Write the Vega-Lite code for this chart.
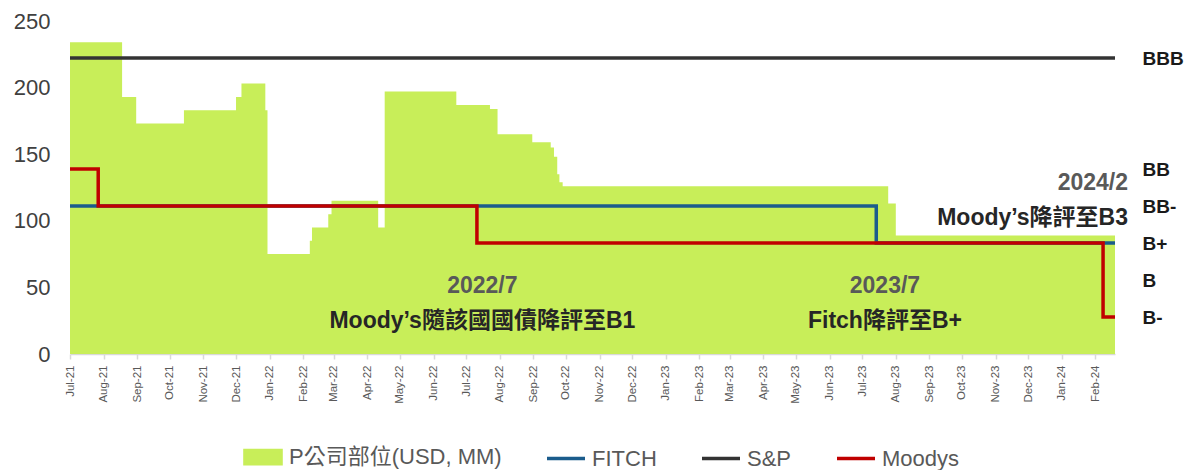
{
  "$schema": "https://vega.github.io/schema/vega-lite/v6.json",
  "width": 1045,
  "height": 333,
  "autosize": {"type": "none"},
  "padding": {"left": 70, "top": 21, "right": 75, "bottom": 116},
  "background": "white",
  "config": {
    "view": {"stroke": null},
    "font": "Liberation Sans, Noto Sans CJK TC",
    "axisX": {
      "format": "%b-%y", "formatType": "utc",
      "tickCount": {"interval": "month", "step": 1},
      "labelAngle": -90, "labelFontSize": 11.5, "labelColor": "#595959",
      "labelPadding": 6, "labelOverlap": false, "labelFlush": false,
      "domainColor": "#d9d9d9", "domainWidth": 1.5,
      "tickColor": "#d9d9d9", "tickSize": 5, "tickWidth": 1.5, "grid": false
    }
  },
  "datasets": {
    "position": [
      {"date": "2021-07-01", "value": 234},
      {"date": "2021-08-18", "value": 193},
      {"date": "2021-08-31", "value": 173},
      {"date": "2021-10-14", "value": 183},
      {"date": "2021-12-01", "value": 193},
      {"date": "2021-12-06", "value": 203},
      {"date": "2021-12-28", "value": 183},
      {"date": "2021-12-30", "value": 75},
      {"date": "2022-02-07", "value": 85},
      {"date": "2022-02-09", "value": 95},
      {"date": "2022-02-24", "value": 105},
      {"date": "2022-02-27", "value": 115},
      {"date": "2022-04-11", "value": 95},
      {"date": "2022-04-17", "value": 197},
      {"date": "2022-06-22", "value": 187},
      {"date": "2022-07-23", "value": 184},
      {"date": "2022-07-30", "value": 165},
      {"date": "2022-08-31", "value": 159},
      {"date": "2022-09-17", "value": 155},
      {"date": "2022-09-20", "value": 148},
      {"date": "2022-09-23", "value": 135},
      {"date": "2022-09-25", "value": 129},
      {"date": "2022-09-28", "value": 126},
      {"date": "2023-07-25", "value": 113},
      {"date": "2023-08-01", "value": 89},
      {"date": "2024-02-19", "value": 89}
    ],
    "ratings": [
      {"agency": "S&P", "date": "2021-07-01", "rating": 8},
      {"agency": "S&P", "date": "2024-02-19", "rating": 8},
      {"agency": "FITCH", "date": "2021-07-01", "rating": 4},
      {"agency": "FITCH", "date": "2023-07-14", "rating": 3},
      {"agency": "FITCH", "date": "2024-02-19", "rating": 3},
      {"agency": "Moodys", "date": "2021-07-01", "rating": 5},
      {"agency": "Moodys", "date": "2021-07-27", "rating": 4},
      {"agency": "Moodys", "date": "2022-07-11", "rating": 3},
      {"agency": "Moodys", "date": "2024-02-08", "rating": 1},
      {"agency": "Moodys", "date": "2024-02-19", "rating": 1}
    ],
    "notes": [
      {"event": "a", "line": "head", "date": "2022-07-16", "value": 51, "text": "2022/7"},
      {"event": "a", "line": "desc", "date": "2022-07-16", "value": 25, "text": "Moody’s隨該國國債降評至B1"},
      {"event": "b", "line": "head", "date": "2023-07-22", "value": 51, "text": "2023/7"},
      {"event": "b", "line": "desc", "date": "2023-07-22", "value": 25, "text": "Fitch降評至B+"},
      {"event": "c", "line": "head", "date": "2024-03-02", "value": 128.7, "text": "2024/2"},
      {"event": "c", "line": "desc", "date": "2024-03-02", "value": 102, "text": "Moody’s降評至B3"}
    ]
  },
  "resolve": {"scale": {"y": "independent"}},
  "layer": [
    {
      "layer": [
        {
          "data": {"name": "position"},
          "mark": {"type": "area", "interpolate": "step-after"},
          "encoding": {
            "x": {
              "field": "date", "type": "temporal", "title": null,
              "scale": {"type": "utc", "domain": [{"year": 2021, "month": 7, "date": 1, "utc": true}, {"year": 2024, "month": 2, "date": 19, "utc": true}]}
            },
            "y": {
              "field": "value", "type": "quantitative",
              "scale": {"domain": [0, 250], "nice": false},
              "axis": {
                "title": null, "values": [0, 50, 100, 150, 200, 250],
                "domain": false, "ticks": false, "grid": false,
                "labelFontSize": 22, "labelColor": "#404040", "labelPadding": 20
              }
            },
            "color": {
              "datum": "P公司部位(USD, MM)",
              "scale": {
                "domain": ["P公司部位(USD, MM)", "FITCH", "S&P", "Moodys"],
                "range": ["#C8EE59", "#1B5C8C", "#333333", "#C00000"]
              },
              "legend": {
                "title": null, "orient": "none", "direction": "horizontal", "columns": 4,
                "legendX": 172, "legendY": 415, "padding": 0,
                "symbolSize": 1444, "columnPadding": 38, "labelOffset": 5,
                "labelFontSize": 22, "labelColor": "#595959",
                "labelFont": "Liberation Sans, Noto Sans CJK TC", "labelLimit": 400,
                "encode": {
                  "symbols": {
                    "update": {
                      "shape": {"signal": "datum.value === 'P公司部位(USD, MM)' ? 'M-0.95,-0.35L0.95,-0.35L0.95,0.35L-0.95,0.35Z' : 'stroke'"},
                      "fill": {"signal": "datum.value === 'P公司部位(USD, MM)' ? '#C8EE59' : 'transparent'"},
                      "stroke": {"signal": "datum.value === 'P公司部位(USD, MM)' ? 'transparent' : (datum.value === 'FITCH' ? '#1B5C8C' : (datum.value === 'S&P' ? '#333333' : '#C00000'))"},
                      "strokeWidth": {"value": 3.5},
                      "opacity": {"value": 1},
                      "fillOpacity": {"value": 1},
                      "strokeOpacity": {"value": 1}
                    }
                  }
                }
              }
            }
          }
        },
        {
          "data": {"name": "notes"},
          "transform": [{"filter": "datum.line === 'head' && datum.event !== 'c'"}],
          "mark": {"type": "text", "align": "center", "baseline": "middle", "fontSize": 23, "fontWeight": "bold", "color": "#595959"},
          "encoding": {
            "x": {"field": "date", "type": "temporal", "title": null},
            "y": {"field": "value", "type": "quantitative"},
            "text": {"field": "text"}
          }
        },
        {
          "data": {"name": "notes"},
          "transform": [{"filter": "datum.line === 'desc' && datum.event !== 'c'"}],
          "mark": {"type": "text", "align": "center", "baseline": "middle", "fontSize": 23, "fontWeight": "bold", "color": "#262626"},
          "encoding": {
            "x": {"field": "date", "type": "temporal", "title": null},
            "y": {"field": "value", "type": "quantitative"},
            "text": {"field": "text"}
          }
        },
        {
          "data": {"name": "notes"},
          "transform": [{"filter": "datum.line === 'head' && datum.event === 'c'"}],
          "mark": {"type": "text", "align": "right", "baseline": "middle", "fontSize": 23, "fontWeight": "bold", "color": "#595959"},
          "encoding": {
            "x": {"field": "date", "type": "temporal", "title": null},
            "y": {"field": "value", "type": "quantitative"},
            "text": {"field": "text"}
          }
        },
        {
          "data": {"name": "notes"},
          "transform": [{"filter": "datum.line === 'desc' && datum.event === 'c'"}],
          "mark": {"type": "text", "align": "right", "baseline": "middle", "fontSize": 23, "fontWeight": "bold", "color": "#262626"},
          "encoding": {
            "x": {"field": "date", "type": "temporal", "title": null},
            "y": {"field": "value", "type": "quantitative"},
            "text": {"field": "text"}
          }
        }
      ]
    },
    {
      "data": {"name": "ratings"},
      "mark": {"type": "line", "interpolate": "step-after", "strokeWidth": 3.5},
      "encoding": {
        "x": {"field": "date", "type": "temporal", "title": null},
        "y": {
          "field": "rating", "type": "quantitative",
          "scale": {"domain": [0, 9], "nice": false},
          "axis": {
            "orient": "right", "title": null, "values": [1, 2, 3, 4, 5, 8],
            "domain": false, "ticks": false, "grid": false,
            "labelExpr": "datum.value == 8 ? 'BBB' : datum.value == 5 ? 'BB' : datum.value == 4 ? 'BB-' : datum.value == 3 ? 'B+' : datum.value == 2 ? 'B' : 'B-'",
            "labelFontSize": 19, "labelFontWeight": "bold", "labelColor": "#1a1a1a",
            "labelPadding": 27, "labelAlign": "left"
          }
        },
        "color": {
          "field": "agency", "type": "nominal",
          "legend": {
            "title": null, "orient": "none", "direction": "horizontal", "columns": 4,
            "legendX": 172, "legendY": 415, "padding": 0,
            "symbolSize": 1444, "columnPadding": 38, "labelOffset": 5,
            "labelFontSize": 22, "labelColor": "#595959",
            "labelFont": "Liberation Sans, Noto Sans CJK TC", "labelLimit": 400,
            "encode": {
              "symbols": {
                "update": {
                  "shape": {"signal": "datum.value === 'P公司部位(USD, MM)' ? 'M-0.95,-0.35L0.95,-0.35L0.95,0.35L-0.95,0.35Z' : 'stroke'"},
                  "fill": {"signal": "datum.value === 'P公司部位(USD, MM)' ? '#C8EE59' : 'transparent'"},
                  "stroke": {"signal": "datum.value === 'P公司部位(USD, MM)' ? 'transparent' : (datum.value === 'FITCH' ? '#1B5C8C' : (datum.value === 'S&P' ? '#333333' : '#C00000'))"},
                  "strokeWidth": {"value": 3.5},
                  "opacity": {"value": 1},
                  "fillOpacity": {"value": 1},
                  "strokeOpacity": {"value": 1}
                }
              }
            }
          }
        },
        "order": {"field": "date", "type": "temporal"}
      }
    }
  ]
}
